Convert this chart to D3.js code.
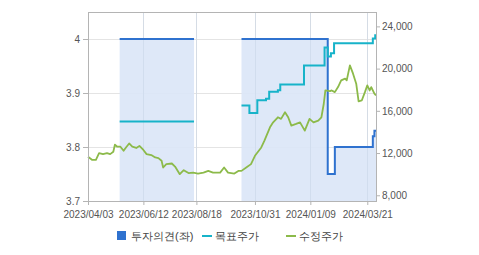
<!DOCTYPE html>
<html>
<head>
<meta charset="utf-8">
<script src="https://d3js.org/d3.v7.min.js"></script>
<style>
  body { margin: 0; background: #fff; }
  text { font-family: "Liberation Sans", Arial, sans-serif; }
</style>
</head>
<body>
<svg id="chart" width="479" height="255"></svg>
<script>
    // x tick labels
    var xTicks = ["2023/04/03", "2023/06/12", "2023/08/18", "2023/10/31", "2024/01/09", "2024/03/21"]
    var leftTicks = [3.7, 3.8, 3.9, 4]
    var rightTicks = [8000, 12000, 16000, 20000, 24000]

    // 투자의견 (left axis), null = no data
    var opinionDates = ["2023/04/03", "2023/05/13", "2023/08/15", "2023/08/16", "2023/10/14", "2024/01/31", "2024/02/09", "2024/03/28", "2024/03/30", "2024/04/01"]
    var opinionValues = [null, 4, 4, null, 4, 3.75, 3.8, 3.82, 3.83, 3.83]

    // 목표주가 (right axis)
    var targetDates = ["2023/04/03", "2023/05/13", "2023/08/15", "2023/08/16", "2023/10/14", "2023/10/24", "2023/11/03", "2023/11/14", "2023/11/18", "2023/11/29", "2023/12/02", "2024/01/01", "2024/01/27", "2024/01/31", "2024/02/04", "2024/02/08", "2024/03/28", "2024/03/31", "2024/04/01"]
    var targetValues = [null, 15000, 15000, null, 16500, 15800, 17000, 17150, 17800, 17950, 18500, 20300, 22000, 21150, 21450, 22400, 22850, 23150, 23150]

    // 수정주가 (right axis)
    var priceDates = ["2023/04/03", "2023/04/08", "2023/04/13", "2023/04/17", "2023/04/22", "2023/04/27", "2023/05/01", "2023/05/05", "2023/05/07", "2023/05/10",
        "2023/05/14", "2023/05/18", "2023/05/21", "2023/05/25", "2023/05/29", "2023/06/03", "2023/06/07", "2023/06/12", "2023/06/16", "2023/06/22",
        "2023/06/27", "2023/07/01", "2023/07/05", "2023/07/07", "2023/07/11", "2023/07/18", "2023/07/22", "2023/07/28", "2023/08/02", "2023/08/08",
        "2023/08/14", "2023/08/20", "2023/08/27", "2023/09/02", "2023/09/08", "2023/09/17", "2023/09/22", "2023/09/27", "2023/10/05", "2023/10/10",
        "2023/10/14", "2023/10/20", "2023/10/26", "2023/10/31", "2023/11/08", "2023/11/12", "2023/11/19", "2023/11/23", "2023/11/29", "2023/12/03",
        "2023/12/08", "2023/12/12", "2023/12/16", "2023/12/22", "2023/12/27", "2024/01/02", "2024/01/08", "2024/01/13", "2024/01/19", "2024/01/23",
        "2024/01/26", "2024/01/28", "2024/02/03", "2024/02/05", "2024/02/09", "2024/02/13", "2024/02/17", "2024/02/22", "2024/02/24", "2024/02/28",
        "2024/03/03", "2024/03/07", "2024/03/10", "2024/03/14", "2024/03/18", "2024/03/21", "2024/03/24", "2024/03/26", "2024/03/30", "2024/04/01"]
    var priceValues = [11650, 11360, 11360, 12000, 11900, 12000, 11900, 12120, 12790, 12600,
        12600, 12220, 12530, 12910, 12600, 12480, 12670, 12290, 11900, 11810,
        11580, 11520, 11270, 10630, 10950, 11010, 10720, 10000, 10380, 10100,
        10150, 10060, 10150, 10310, 10150, 10150, 10630, 10150, 10060, 10310,
        10310, 10630, 10950, 11740, 12530, 13170, 14440, 14910, 15390, 15240,
        15870, 15390, 14600, 14760, 14910, 14120, 15240, 14910, 15080, 15390,
        16670, 17930, 17870, 17930, 17770, 18250, 18890, 19050, 18890, 20310,
        19520, 18570, 16890, 16980, 17770, 18410, 17930, 18250, 17620, 17460]

    var parse = d3.timeParse("%Y/%m/%d")
    var fmt = d3.timeFormat("%Y/%m/%d")

    var opinion = opinionDates.map((d, i) => ({date: parse(d), v: opinionValues[i]}))
    var target = targetDates.map((d, i) => ({date: parse(d), v: targetValues[i]}))
    var price = priceDates.map((d, i) => ({date: parse(d), v: priceValues[i]}))

    var plotL = 88, plotR = 376, plotT = 12, plotB = 201

    var svg = d3.select("#chart")

    var x = d3.scaleTime()
        .domain([parse("2023/04/03"), parse("2024/04/01")])
        .range([plotL, plotR])
    var yL = d3.scaleLinear().domain([3.7, 4.05]).range([plotB, plotT])
    var yR = d3.scaleLinear().domain([7457, 25362]).range([plotB, plotT])

    var gx = d => Math.round(x(parse(d))) + 0.5

    // grid
    svg.append("g").selectAll("line").data(xTicks).enter().append("line")
        .attr("x1", gx).attr("x2", gx)
        .attr("y1", plotT).attr("y2", plotB)
        .attr("stroke", "#e4e4e4")
    svg.append("g").selectAll("line").data(leftTicks).enter().append("line")
        .attr("x1", plotL).attr("x2", plotR)
        .attr("y1", d => Math.round(yL(d)) + 0.5).attr("y2", d => Math.round(yL(d)) + 0.5)
        .attr("stroke", "#e4e4e4")

    // opinion area + line
    var area = d3.area()
        .defined(d => d.v != null)
        .x(d => x(d.date)).y0(plotB).y1(d => yL(d.v))
        .curve(d3.curveStepAfter)
    svg.append("path").datum(opinion).attr("d", area)
        .attr("fill", "#dae5f7").attr("fill-opacity", 0.9)

    // grid lines show faintly through the fill
    svg.append("g").selectAll("line").data(xTicks).enter().append("line")
        .attr("x1", gx).attr("x2", gx)
        .attr("y1", plotT).attr("y2", plotB)
        .attr("stroke", "#c6d3e6").attr("stroke-opacity", 0.5)

    var lineL = d3.line()
        .defined(d => d.v != null)
        .x(d => x(d.date)).y(d => yL(d.v))
        .curve(d3.curveStepAfter)
    svg.append("path").datum(opinion).attr("d", lineL)
        .attr("fill", "none").attr("stroke", "#2f72cf").attr("stroke-width", 2)

    var stepR = d3.line()
        .defined(d => d.v != null)
        .x(d => x(d.date)).y(d => yR(d.v))
        .curve(d3.curveStepAfter)
    svg.append("path").datum(target).attr("d", stepR)
        .attr("fill", "none").attr("stroke", "#17b3c9").attr("stroke-width", 2)

    var lineR = d3.line()
        .x(d => x(d.date)).y(d => yR(d.v))
    svg.append("path").datum(price).attr("d", lineR)
        .attr("fill", "none").attr("stroke", "#8cba4a").attr("stroke-width", 1.8)
        .attr("stroke-linejoin", "round")

    // frame
    svg.append("rect")
        .attr("x", plotL + 0.5).attr("y", plotT + 0.5)
        .attr("width", plotR - plotL).attr("height", plotB - plotT)
        .attr("fill", "none").attr("stroke", "#b4b4b4")

    // axes
    var axisL = d3.axisLeft(yL).tickValues(leftTicks).tickSize(5).tickPadding(3)
        .tickFormat(d => d3.format("")(d))
    var gL = svg.append("g").attr("transform", `translate(${plotL},0)`).call(axisL)

    var axisR = d3.axisRight(yR).tickValues(rightTicks).tickSize(4).tickPadding(2)
        .tickFormat(d3.format(","))
    var gR = svg.append("g").attr("transform", `translate(${plotR},0)`).call(axisR)

    var axisB = d3.axisBottom(x).tickValues(xTicks.map(parse)).tickSize(4).tickPadding(4)
        .tickFormat(fmt)
    var gB = svg.append("g").attr("transform", `translate(0,${plotB})`).call(axisB)

    ;[gL, gR, gB].forEach(g => {
        g.select(".domain").remove()
        g.selectAll(".tick line").attr("stroke", "#b4b4b4")
        g.selectAll("text").attr("fill", "#555").style("font-size", "10px")
            .style("font-family", "'Liberation Sans', Arial, sans-serif")
    })
    gB.selectAll("text").attr("dy", "0.9em")

    // legend
    var legend = svg.append("g").style("font-family", "'Noto Sans CJK KR', sans-serif").style("font-size", "11px")
    legend.append("rect").attr("x", 117).attr("y", 231).attr("width", 9).attr("height", 9).attr("fill", "#2f72cf")
    legend.append("text").attr("x", 131).attr("y", 240).attr("fill", "#444").text("투자의견(좌)")
    legend.append("line").attr("x1", 202).attr("x2", 212).attr("y1", 236).attr("y2", 236)
        .attr("stroke", "#17b3c9").attr("stroke-width", 2)
    legend.append("text").attr("x", 215).attr("y", 240).attr("fill", "#444").text("목표주가")
    legend.append("line").attr("x1", 286).attr("x2", 296).attr("y1", 236).attr("y2", 236)
        .attr("stroke", "#8cba4a").attr("stroke-width", 2)
    legend.append("text").attr("x", 299).attr("y", 240).attr("fill", "#444").text("수정주가")
</script>
</body>
</html>
